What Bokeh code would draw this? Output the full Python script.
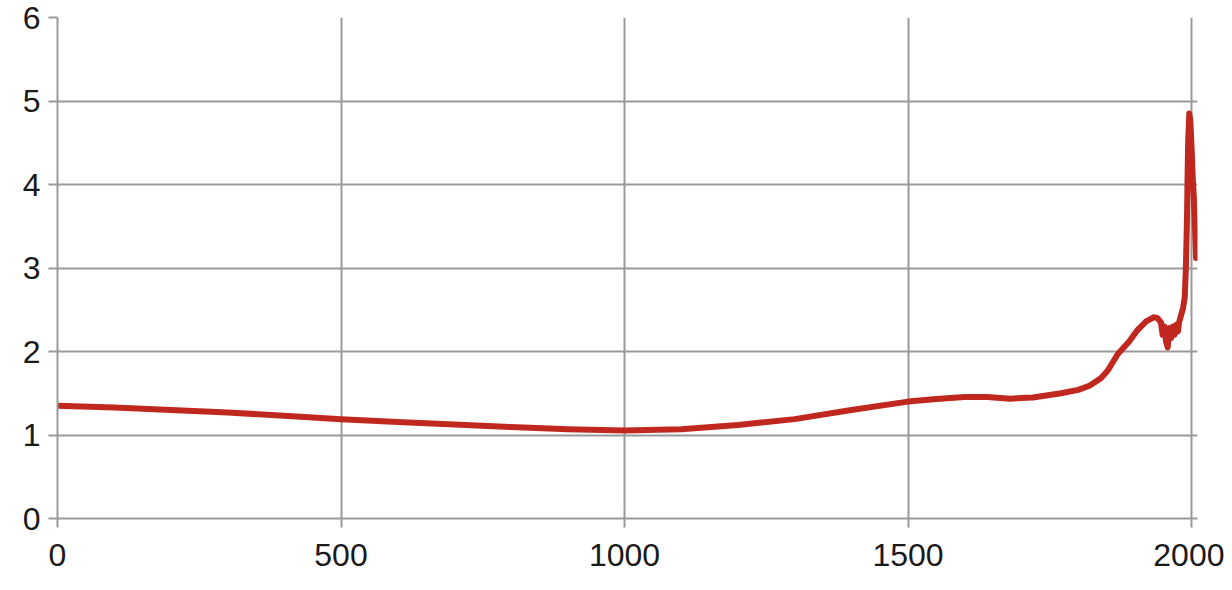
from bokeh.plotting import figure
from bokeh.models import Range1d, FixedTicker
from bokeh.embed import file_html
from bokeh.resources import INLINE

years = [0, 100, 200, 300, 400, 500, 600, 700, 800, 900, 1000, 1100, 1200, 1300, 1400,
         1500, 1550, 1600, 1640, 1680, 1720, 1770, 1800, 1820, 1840, 1852, 1870, 1890,
         1905, 1920, 1933, 1940, 1946, 1949, 1952, 1955, 1958, 1961, 1964, 1967, 1970,
         1973, 1976, 1978, 1981, 1985, 1988, 1990, 1992, 1993, 1994, 1996, 1998, 2000,
         2002, 2004, 2006, 2008]
values = [1.35, 1.33, 1.30, 1.27, 1.23, 1.19, 1.155, 1.125, 1.095, 1.07, 1.055, 1.07,
          1.12, 1.19, 1.30, 1.40, 1.43, 1.455, 1.455, 1.435, 1.45, 1.50, 1.54, 1.59,
          1.68, 1.77, 1.97, 2.12, 2.26, 2.36, 2.41, 2.40, 2.35, 2.20, 2.30, 2.12, 2.05,
          2.28, 2.16, 2.30, 2.20, 2.32, 2.24, 2.35, 2.42, 2.52, 2.65, 3.0, 3.6, 4.1,
          4.5, 4.85, 4.75, 4.45, 4.1, 3.85, 3.5, 3.12]

x_ticks = [0, 500, 1000, 1500, 2000]
y_ticks = [0, 1, 2, 3, 4, 5, 6]

p = figure(width=1224, height=582, output_backend="svg", toolbar_location=None,
           x_range=Range1d(0, 2010.5), y_range=Range1d(0, 6),
           min_border_left=57, min_border_right=27, min_border_top=17,
           min_border_bottom=64)
p.outline_line_color = None

grid_col = "#9a9a9a"
p.xgrid.ticker = FixedTicker(ticks=x_ticks)
p.ygrid.ticker = FixedTicker(ticks=y_ticks)
for g in (p.xgrid, p.ygrid):
    g.grid_line_color = grid_col
    g.grid_line_width = 2

p.xaxis.ticker = FixedTicker(ticks=x_ticks)
p.yaxis.ticker = FixedTicker(ticks=y_ticks)
for ax in (p.xaxis, p.yaxis):
    ax.axis_line_color = grid_col
    ax.axis_line_width = 2
    ax.major_tick_line_color = grid_col
    ax.major_tick_line_width = 2
    ax.major_tick_in = 0
    ax.major_tick_out = 9
    ax.minor_tick_line_color = None
    ax.major_label_text_font = "Liberation Sans"
    ax.major_label_text_font_size = "32px"
    ax.major_label_text_color = "#1a1a1a"
p.xaxis.major_label_standoff = 16
p.yaxis.major_label_standoff = 8

p.line(years, values, line_color="#c0281f", line_width=6, line_join="round",
       line_cap="round")

open("out.html", "w").write(file_html(p, INLINE))
